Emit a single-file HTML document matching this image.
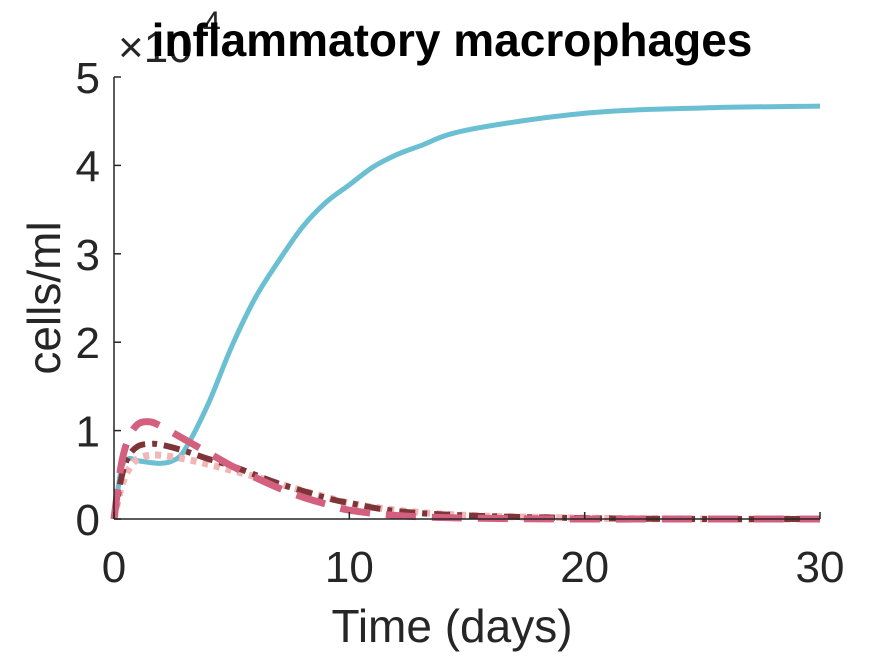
<!DOCTYPE html>
<html><head><meta charset="utf-8"><style>
body{margin:0;background:#fff;}
svg text{font-family:"Liberation Sans",sans-serif;}
</style></head><body>
<svg id="chart" width="875" height="656" viewBox="0 0 875 656" xmlns="http://www.w3.org/2000/svg">
<rect width="875" height="656" fill="#fff"/>
<g id="plot"></g>
<g id="axes"></g>
<text x="118" y="62" font-size="44" fill="#262626">×10</text>
<text x="203" y="34" font-size="32" fill="#262626">4</text>
<text x="452" y="56" font-size="46" font-weight="bold" text-anchor="middle" fill="#000">inflammatory macrophages</text>
<text x="452" y="642" font-size="46" text-anchor="middle" fill="#262626">Time (days)</text>
<text transform="translate(60,298) rotate(-90)" font-size="46" text-anchor="middle" fill="#262626">cells/ml</text>
</svg>
<script>
const xTicks=[0,10,20,30];
const yTicks=[0,1,2,3,4,5];
const tCyan=[0,0.3,0.6,1,1.5,2,2.5,3,4,5,6,7,8,9,10,11,12,13,15,20,25,30];
const vCyan=[0,0.55,0.68,0.66,0.64,0.63,0.66,0.78,1.3,1.95,2.5,2.92,3.3,3.58,3.78,3.98,4.12,4.22,4.4,4.59,4.65,4.67];
const tOther=[0,0.3,0.6,1,1.5,2,3,4,5,6,7,8,9,10,12,15,20,25,30];
const vDash=[0,0.6,0.9,1.07,1.1,1.05,0.9,0.75,0.6,0.47,0.35,0.25,0.17,0.1,0.04,0.01,0,0,0];
const vDashDot=[0,0.45,0.7,0.82,0.85,0.84,0.77,0.68,0.6,0.5,0.4,0.32,0.24,0.18,0.09,0.04,0.01,0,0];
const vDot=[0,0.35,0.55,0.68,0.72,0.72,0.68,0.62,0.55,0.48,0.4,0.32,0.25,0.18,0.1,0.04,0.01,0,0];
const X0=114,X1=820,Y0=519,Y1=77;
const xs=v=>X0+(v/30)*(X1-X0);
const ys=v=>Y0-(v/5)*(Y0-Y1);
const NS="http://www.w3.org/2000/svg";
const plot=document.getElementById('plot'),axes=document.getElementById('axes');
function line(t,v,color,w,dash,name){
 const p=document.createElementNS(NS,'path');
 let d='';
 for(let i=0;i<t.length;i++){
  if(i===0){d+='M'+xs(t[0])+','+ys(v[0]);continue;}
  const x0=xs(t[i-1]),y0=ys(v[i-1]),x1=xs(t[i]),y1=ys(v[i]);
  const xp=i>1?xs(t[i-2]):x0,yp=i>1?ys(v[i-2]):y0;
  const xn=i<t.length-1?xs(t[i+1]):x1,yn=i<t.length-1?ys(v[i+1]):y1;
  d+='C'+(x0+(x1-xp)/6)+','+(y0+(y1-yp)/6)+' '+(x1-(xn-x0)/6)+','+(y1-(yn-y0)/6)+' '+x1+','+y1;
 }
 p.setAttribute('d',d);p.setAttribute('fill','none');p.setAttribute('stroke',color);
 p.setAttribute('stroke-width',w);if(dash)p.setAttribute('stroke-dasharray',dash);
 
 
 plot.appendChild(p);
}
line(tCyan,vCyan,'#6bbfd2',5,null,'series-cyan-solid');
line(tOther,vDot,'#f2b6b6',7,'6,6','series-lightpink-dotted');
line(tOther,vDashDot,'#7d3538',6,'16,7,5,7','series-brown-dashdot');
line(tOther,vDash,'#d4607f',7,'30,16','series-pink-dashed');
function ln(x1,y1,x2,y2,name){const l=document.createElementNS(NS,'line');
 l.setAttribute('x1',x1);l.setAttribute('y1',y1);l.setAttribute('x2',x2);l.setAttribute('y2',y2);
 l.setAttribute('stroke','#262626');l.setAttribute('stroke-width',1.5);
 
 
 axes.appendChild(l);}
ln(X0,Y0,X1,Y0,'x-axis-line');ln(X0,Y0,X0,Y1,'y-axis-line');
xTicks.forEach(v=>{ln(xs(v),Y0,xs(v),Y0-7,'x-tick');
 const t=document.createElementNS(NS,'text');t.setAttribute('x',xs(v));t.setAttribute('y',Y0+63);
 t.setAttribute('font-size','44');t.setAttribute('text-anchor','middle');t.setAttribute('fill','#262626');t.textContent=v;
 
 
 axes.appendChild(t);});
yTicks.forEach(v=>{ln(X0,ys(v),X0+7,ys(v),'y-tick');
 const t=document.createElementNS(NS,'text');t.setAttribute('x',X0-14);t.setAttribute('y',ys(v)+16);
 t.setAttribute('font-size','44');t.setAttribute('text-anchor','end');t.setAttribute('fill','#262626');t.textContent=v;
 
 
 axes.appendChild(t);});
</script>
</body></html>
